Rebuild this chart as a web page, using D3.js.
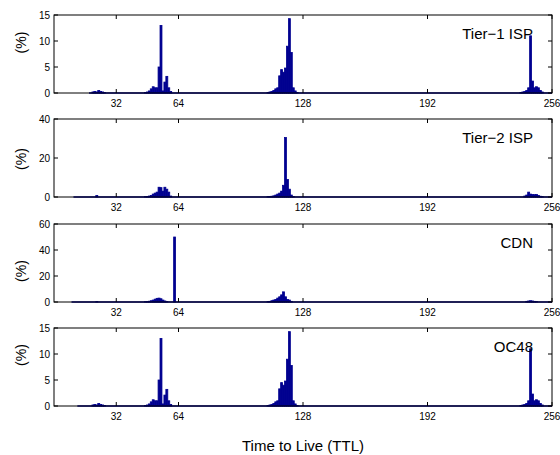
<!DOCTYPE html>
<html>
<head>
<meta charset="utf-8">
<script src="https://cdn.jsdelivr.net/npm/d3@7"></script>
<style>
  body { margin: 0; background: white; }
  text { font-family: "Liberation Sans", Arial, Helvetica, sans-serif; fill: black; }
</style>
</head>
<body>
<svg id="mainSvg" width="560" height="455"></svg>
<script>
// TTL histogram data, [ttl, percent]; any ttl not listed is 0
var tier1 = [
  [20,0.2],[21,0.3],[22,0.2],[23,0.5],[24,0.3],[25,0.2],[26,0.1],
  [47,0.1],[48,0.2],[49,0.4],[50,0.8],[51,1.2],[52,1.0],[53,1.0],[54,5.0],[55,13.0],[56,0.4],[57,2.1],[58,3.2],[59,1.0],[60,0.3],
  [110,0.1],[111,0.2],[112,0.3],[113,0.5],[114,0.8],[115,1.0],[116,3.3],[117,4.5],[118,4.0],[119,4.8],[120,9.0],[121,14.3],[122,7.8],[123,1.0],[124,0.4],[125,0.1],
  [240,0.1],[241,0.2],[242,0.3],[243,0.5],[244,1.0],[245,11.0],[246,2.3],[247,1.0],[248,1.2],[249,1.0],[250,0.5],[251,0.2]
];
var tier2 = [
  [22,0.8],
  [47,0.2],[48,0.3],[49,0.5],[50,0.8],[51,1.5],[52,2.0],[53,2.5],[54,5.0],[55,4.8],[56,3.0],[57,5.0],[58,4.0],[59,2.5],[60,0.5],
  [110,0.2],[111,0.3],[112,0.4],[113,0.6],[114,1.0],[115,1.5],[116,2.0],[117,3.0],[118,6.0],[119,30.5],[120,9.0],[121,4.0],[122,1.0],[123,0.3],
  [242,0.5],[243,1.0],[244,2.5],[245,1.5],[246,1.3],[247,1.2],[248,1.3],[249,0.8],[250,0.4],[251,0.2]
];
var cdn = [
  [22,0.3],
  [47,0.2],[48,0.3],[49,0.6],[50,1.0],[51,1.5],[52,2.2],[53,2.8],[54,3.0],[55,2.5],[56,1.5],[57,0.8],[58,0.3],
  [62,50.0],
  [110,0.3],[111,0.5],[112,1.0],[113,1.5],[114,2.0],[115,3.0],[116,4.0],[117,5.5],[118,7.8],[119,4.0],[120,2.0],[121,1.5],[122,0.5],
  [243,0.5],[244,0.8],[245,1.0],[246,0.8],[247,0.5],[248,0.3]
];
var oc48 = [
  [20,0.2],[21,0.3],[22,0.2],[23,0.5],[24,0.3],[25,0.2],[26,0.1],
  [47,0.1],[48,0.2],[49,0.4],[50,0.8],[51,1.2],[52,1.0],[53,1.0],[54,5.0],[55,13.0],[56,0.4],[57,2.1],[58,3.2],[59,1.0],[60,0.3],
  [110,0.1],[111,0.2],[112,0.3],[113,0.5],[114,0.8],[115,1.0],[116,3.3],[117,4.5],[118,4.0],[119,4.8],[120,9.0],[121,14.3],[122,7.8],[123,1.0],[124,0.4],[125,0.1],
  [240,0.1],[241,0.2],[242,0.3],[243,0.5],[244,1.0],[245,11.0],[246,2.3],[247,1.0],[248,1.2],[249,1.0],[250,0.5],[251,0.2]
];

var panelNames = ["Tier\u22121 ISP", "Tier\u22122 ISP", "CDN", "OC48"];
var panelData = [tier1, tier2, cdn, oc48];
var yMax = [15, 40, 60, 15];
var yTicks = [[0,5,10,15], [0,20,40], [0,20,40,60], [0,5,10,15]];
var firstTtl = [18, 10, 9, 12];   // where the zero-height bars begin
var xTicks = [32, 64, 128, 192, 256];

var svg = d3.select("#mainSvg");
var left = 54, right = 552;
var panelTop = [15, 119, 224, 328];
var panelH = 78;
var ylabelY = [42.5, 159, 271, 355];
var barColor = "#000090";
var tickLen = 4;

var x = d3.scaleLinear().domain([0, 256]).range([left, right]);

function drawPanel(i){
  var top = panelTop[i];
  var bottom = top + panelH;
  var y = d3.scaleLinear().domain([0, yMax[i]]).range([bottom, top]);
  var g = svg.append("g").attr("class", "panel");

  // zero bars show up as a blue line along the bottom
  g.append("line")
    .attr("x1", x(firstTtl[i])).attr("x2", x(256))
    .attr("y1", y(0)).attr("y2", y(0))
    .style("stroke", barColor).style("stroke-width", 1.6);

  g.selectAll(".bar")
    .data(panelData[i])
    .enter().append("rect")
      .attr("class", "bar")
      .attr("x", function(d){ return x(d[0] - 0.5); })
      .attr("width", function(d){ return x(d[0] + 0.5) - x(d[0] - 0.5); })
      .attr("y", function(d){ return y(d[1]); })
      .attr("height", function(d){ return y(0) - y(d[1]); })
      .style("fill", barColor)
      .style("stroke", barColor)
      .style("stroke-width", 0.8);

  // box
  g.append("rect")
    .attr("x", left).attr("y", top)
    .attr("width", right - left).attr("height", panelH)
    .style("fill", "none").style("stroke", "black").style("stroke-width", 1);

  // x ticks inward, top and bottom
  var xt = g.selectAll(".xt").data(xTicks).enter();
  xt.append("line")
    .attr("x1", function(d){ return x(d); }).attr("x2", function(d){ return x(d); })
    .attr("y1", bottom).attr("y2", bottom - tickLen)
    .style("stroke", "black");
  xt.append("line")
    .attr("x1", function(d){ return x(d); }).attr("x2", function(d){ return x(d); })
    .attr("y1", top).attr("y2", top + tickLen)
    .style("stroke", "black");
  xt.append("text")
    .attr("x", function(d){ return x(d); })
    .attr("y", bottom + 14)
    .attr("text-anchor", "middle")
    .attr("font-size", 10)
    .text(function(d){ return d; });

  // y ticks inward, left and right
  var yt = g.selectAll(".yt").data(yTicks[i]).enter();
  yt.append("line")
    .attr("x1", left).attr("x2", left + tickLen)
    .attr("y1", function(d){ return y(d); }).attr("y2", function(d){ return y(d); })
    .style("stroke", "black");
  yt.append("line")
    .attr("x1", right).attr("x2", right - tickLen)
    .attr("y1", function(d){ return y(d); }).attr("y2", function(d){ return y(d); })
    .style("stroke", "black");
  yt.append("text")
    .attr("x", left - 4)
    .attr("y", function(d){ return y(d); })
    .attr("dy", "0.35em")
    .attr("text-anchor", "end")
    .attr("font-size", 10)
    .text(function(d){ return d; });

  g.append("text")
    .attr("transform", "translate(20.7," + ylabelY[i] + ") rotate(-90)")
    .attr("dy", "0.35em")
    .attr("text-anchor", "middle")
    .attr("font-size", 14)
    .text("(%)");

  g.append("text")
    .attr("x", 533)
    .attr("y", top + 24)
    .attr("text-anchor", "end")
    .attr("font-size", 15)
    .text(panelNames[i]);
}

for (var i = 0; i < panelData.length; i++){
  drawPanel(i);
}

svg.append("text")
  .attr("x", (left + right) / 2)
  .attr("y", 451)
  .attr("text-anchor", "middle")
  .attr("font-size", 15)
  .text("Time to Live (TTL)");
</script>
</body>
</html>
